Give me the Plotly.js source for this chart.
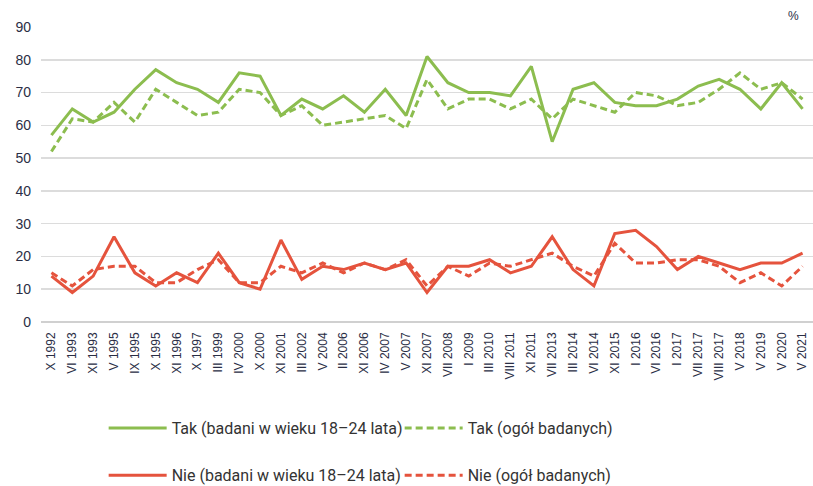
<!DOCTYPE html>
<html><head><meta charset="utf-8">
<script src="https://cdn.plot.ly/plotly-3.0.1.min.js"></script>
<style>html,body{margin:0;padding:0;background:#fff}#chart{width:813px;height:486px}</style>
</head><body><div id="chart"></div>
<script>
const categories = ["X 1992","VI 1993","XI 1993","V 1995","IX 1995","X 1995","XI 1996","X 1997","III 1999","IV 2000","X 2000","XI 2001","III 2002","V 2004","II 2006","XI 2006","IV 2007","V 2007","XI 2007","VII 2008","I 2009","III 2010","VIII 2011","XI 2011","VII 2013","III 2014","VI 2014","XI 2015","I 2016","VI 2016","I 2017","VII 2017","VIII 2017","V 2018","V 2019","V 2020","V 2021"];
const takYoung = [57,65,61,64,71,77,73,71,67,76,75,63,68,65,69,64,71,63,81,73,70,70,69,78,55,71,73,67,66,66,68,72,74,71,65,73,65];
const takAll   = [52,62,61,67,61,71,67,63,64,71,70,63,66,60,61,62,63,59,74,65,68,68,65,68,62,68,66,64,70,69,66,67,71,76,71,73,68];
const nieYoung = [14,9,14,26,15,11,15,12,21,12,10,25,13,17,16,18,16,18,9,17,17,19,15,17,26,16,11,27,28,23,16,20,18,16,18,18,21];
const nieAll   = [15,11,16,17,17,12,12,16,19,12,12,17,15,18,15,18,16,19,11,17,14,18,17,19,21,17,14,24,18,18,19,19,17,12,15,11,17];
const seriesNames = ["Tak (badani w wieku 18–24 lata)","Tak (ogół badanych)","Nie (badani w wieku 18–24 lata)","Nie (ogół badanych)"];

const green = '#8cbd4f', red = '#e5533d';
const traces = [
  {x: categories, y: takYoung, name: seriesNames[0], type:'scatter', mode:'lines', line:{color:green, width:3}, legend:'legend'},
  {x: categories, y: takAll, name: seriesNames[1], type:'scatter', mode:'lines', line:{color:green, width:3, dash:'7px,4px'}, legend:'legend'},
  {x: categories, y: nieYoung, name: seriesNames[2], type:'scatter', mode:'lines', line:{color:red, width:3}, legend:'legend2'},
  {x: categories, y: nieAll, name: seriesNames[3], type:'scatter', mode:'lines', line:{color:red, width:3, dash:'7px,4px'}, legend:'legend2'}
];
const legendCommon = {orientation:'h', xref:'container', yref:'container', xanchor:'left', yanchor:'middle',
  entrywidth:223, entrywidthmode:'pixels', itemwidth:58,
  font:{family:'Roboto, sans-serif', size:16, color:'#333'}, bgcolor:'rgba(0,0,0,0)', traceorder:'normal'};
const tickFont = {family:'Liberation Sans, Arial, sans-serif', size:12, color:'#2a2e45'};
const layout = {
  width:813, height:486,
  margin:{l:41, r:0, t:27, b:164, autoexpand:false},
  paper_bgcolor:'#fff', plot_bgcolor:'#fff',
  showlegend:true,
  xaxis:{type:'category', range:[-0.5,36.5], tickangle:-90, showgrid:false, showline:false, zeroline:false,
    ticks:'', ticklabelstandoff:7, tickfont:tickFont},
  yaxis:{range:[0,90], dtick:10, tick0:0, showgrid:true, gridcolor:'#dcdcdc', gridwidth:1.5, zeroline:true, zerolinecolor:'#d0d0d0', zerolinewidth:1.5,
    showline:false, ticks:'', ticklabelstandoff:9, tickfont:{family:'Liberation Sans, Arial, sans-serif', size:14, color:'#2a2e45'}},
  legend: Object.assign({x:0.1275, y:0.119}, legendCommon),
  legend2: Object.assign({x:0.1275, y:0.022}, legendCommon),
  annotations:[{text:'%', xref:'paper', yref:'paper', x:0.975, y:1.0, yanchor:'bottom', xanchor:'center', showarrow:false,
    font:{family:'Liberation Sans, Arial, sans-serif', size:12, color:'#2a2e45'}, yshift:2}]
};
Plotly.newPlot('chart', traces, layout, {displayModeBar:false, staticPlot:true});
</script></body></html>
